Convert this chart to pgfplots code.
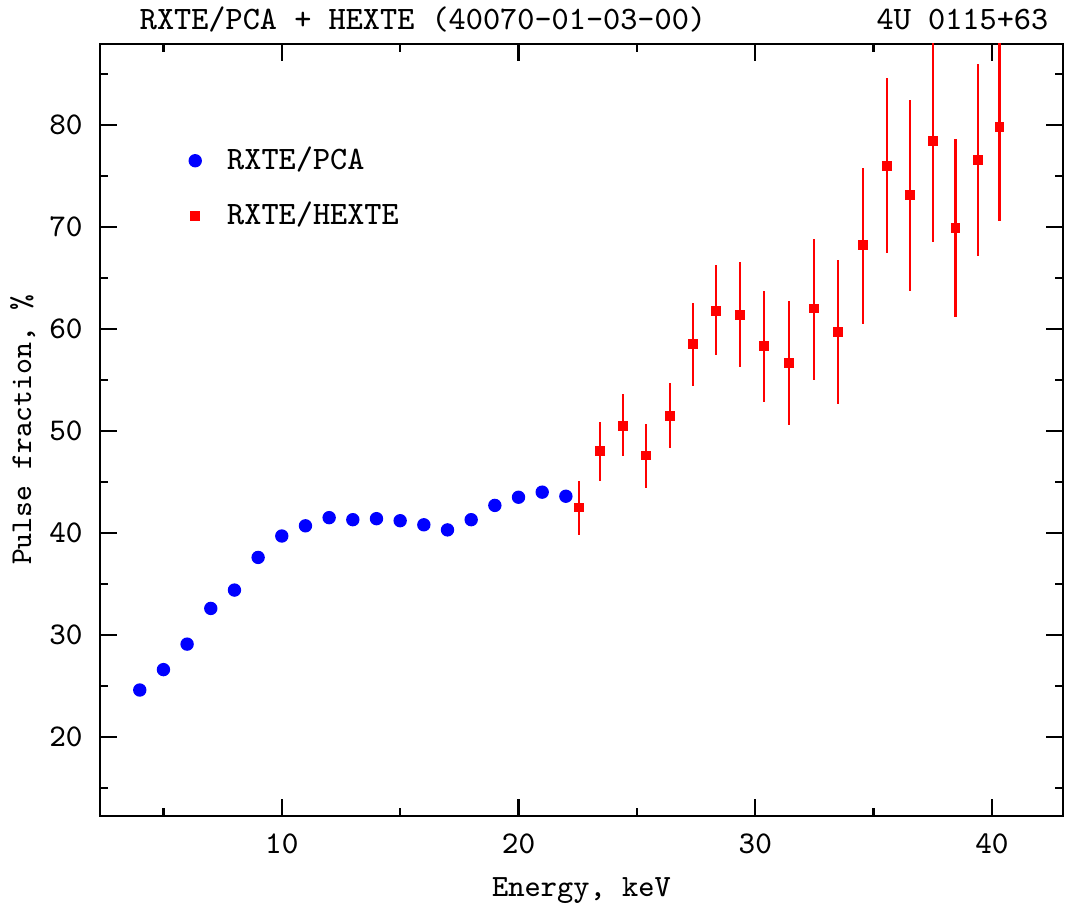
\documentclass[border=0pt]{standalone}
\usepackage{pgfplots}
\pgfplotsset{compat=1.18}
\usepackage{pgfplotstable}

% RXTE/PCA pulse fraction
\pgfplotstableread{
E    pf
4    24.6
5    26.6
6    29.1
7    32.6
8    34.4
9    37.6
10   39.7
11   40.7
12   41.5
13   41.3
14   41.4
15   41.2
16   40.8
17   40.3
18   41.3
19   42.7
20   43.5
21   44.0
22   43.6
}\pca

% RXTE/HEXTE pulse fraction, upper and lower errors
\pgfplotstableread{
E      pf    ep    em
22.57  42.5  2.6   2.7
23.45  48.0  2.9   2.9
24.43  50.5  3.1   3.0
25.40  47.6  3.1   3.2
26.41  51.5  3.2   3.2
27.38  58.5  4.0   4.1
28.35  61.8  4.5   4.4
29.37  61.4  5.2   5.1
30.38  58.3  5.4   5.5
31.42  56.7  6.0   6.1
32.48  62.0  6.8   7.0
33.50  59.7  7.1   7.1
34.55  68.2  7.6   7.7
35.56  76.0  8.6   8.6
36.53  73.1  9.3   9.4
37.51  78.4  9.9   9.9
38.46  69.9  8.7   8.7
39.41  76.6  9.4   9.4
40.32  79.8  9.2   9.2
}\hexte

\begin{document}
\begin{tikzpicture}
\begin{axis}[
  name=ax,
  scale only axis,
  width=9.63cm, height=7.72cm,
  xmin=2.32, xmax=43.0,
  ymin=12.25, ymax=87.94,
  xtick={10,20,30,40},
  minor xtick={5,15,25,35},
  ytick={20,30,40,50,60,70,80},
  minor ytick={15,25,35,45,55,65,75,85},
  tick align=inside,
  major tick length=0.17cm,
  minor tick length=0.08cm,
  every tick/.style={black, line width=0.65pt},
  axis line style={line width=0.65pt},
  ticklabel style={font=\fontsize{9}{10}\selectfont\ttfamily},
  /pgf/number format/assume math mode=true,
  xticklabel style={yshift=-0.05cm},
  yticklabel style={xshift=-0.05cm},
  xlabel={Energy, keV},
  ylabel={Pulse fraction, \%},
  xlabel style={font=\fontsize{8.8}{10}\selectfont\ttfamily},
  ylabel style={font=\fontsize{8.6}{10}\selectfont\ttfamily, yshift=-0.1cm},
  legend style={draw=none, fill=none, at={(0.081,0.886)}, anchor=north west,
    font=\fontsize{9.3}{11}\selectfont\ttfamily, row sep=0.13cm, column sep=0.19cm},
  legend cell align=left,
]
\addplot[only marks, mark=*, mark size=1.7pt, color=blue, mark options={fill=blue, draw=blue}]
  table[x=E, y=pf] {\pca};
\addlegendentry{RXTE/PCA}
\addplot[only marks, mark=square*, mark size=1.2pt, color=red, mark options={fill=red, draw=red},
  error bars/.cd, y dir=both, y explicit,
  error mark=none,
  error bar style={line width=0.6pt, red}]
  table[x=E, y=pf, y error plus=ep, y error minus=em] {\hexte};
\addlegendentry{RXTE/HEXTE}
\end{axis}
\node[anchor=base, font=\fontsize{9.3}{11}\selectfont\ttfamily]
  at ([xshift=3.23cm, yshift=0.14cm]ax.north west) {RXTE/PCA + HEXTE (40070-01-03-00)};
\node[anchor=base east, inner sep=0pt, font=\fontsize{9.3}{11}\selectfont\ttfamily]
  at ([xshift=-0.14cm, yshift=0.14cm]ax.north east) {4U 0115+63};
\pgfresetboundingbox
\path[use as bounding box] ([shift={(-1.00cm,-0.90cm)}]ax.south west)
  rectangle ([shift={(0.06cm,0.44cm)}]ax.north east);
\end{tikzpicture}
\end{document}
